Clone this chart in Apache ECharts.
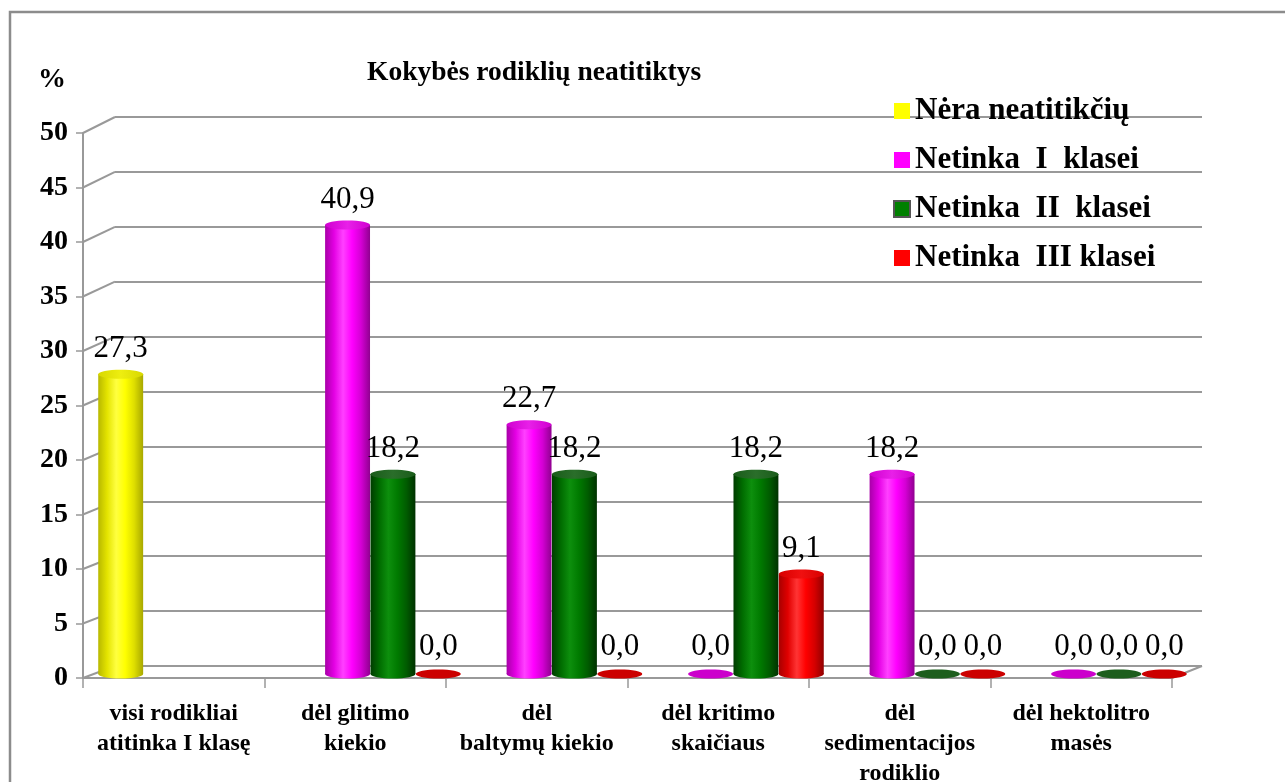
<!DOCTYPE html>
<html><head><meta charset="utf-8">
<script src="https://cdn.jsdelivr.net/npm/echarts@6/dist/echarts.min.js"></script>
<style>html,body{margin:0;padding:0;background:#fff}#c{width:1285px;height:782px}</style>
</head><body><div id="c"></div>
<script>
// ---------- data ----------
const categories = ['visi rodikliai\natitinka I klasę', 'dėl glitimo\nkiekio', 'dėl\nbaltymų kiekio', 'dėl kritimo\nskaičiaus', 'dėl\nsedimentacijos\nrodiklio', 'dėl hektolitro\nmasės'];
const seriesNames = ['Nėra neatitikčių', 'Netinka  I  klasei', 'Netinka  II  klasei', 'Netinka  III klasei'];
const neraNeatitikciu = [27.3, null, null, null, null, null];
const netinkaI = [null, 40.9, 22.7, 0.0, 18.2, 0.0];
const netinkaII = [null, 18.2, 18.2, 18.2, 0.0, 0.0];
const netinkaIII = [null, 0.0, 0.0, 9.1, 0.0, 0.0];
const yTicks = [0, 5, 10, 15, 20, 25, 30, 35, 40, 45, 50];

// ---------- style ----------
const FONT = '"Liberation Serif", "Times New Roman", serif';
const GRID_COLOR = '#999999';
const DEPTH_X = 32;          // back wall shift
const BAR_DX = 15;           // bars sit at mid depth
const RY = 4.5;
const palettes = [
  { legend: '#ffff00', body: ['#b8b800', '#e4e400', '#ffff40', '#ffff00', '#dede00', '#a8a800'], top: ['#d8d800', '#eeee10', '#d8d800'], zero: '#c8c800', border: null },
  { legend: '#ff00ff', body: ['#a800a8', '#e400e4', '#ff40ff', '#ff00ff', '#d400d4', '#900090'], top: ['#d000d0', '#e820e8', '#d000d0'], zero: '#cc00cc', border: null },
  { legend: '#008000', body: ['#003c00', '#006c00', '#0d8f0d', '#007a00', '#005c00', '#003200'], top: ['#1a5c1a', '#2a6e2a', '#1a5c1a'], zero: '#1d5e1d', border: '#555555' },
  { legend: '#ff0000', body: ['#a80000', '#e00000', '#ff3434', '#ff0000', '#d40000', '#900000'], top: ['#d80000', '#f01010', '#d80000'], zero: '#cc0000', border: null }
];
const seriesValues = [neraNeatitikciu, netinkaI, netinkaII, netinkaIII];

function grad(cols) {
  const n = cols.length;
  return new echarts.graphic.LinearGradient(0, 0, 1, 0,
    cols.map((c, k) => ({ offset: k / (n - 1), color: c })));
}
function fmt(v) { return v.toFixed(1).replace('.', ','); }
function depthLift(v) { return 4 + v * 0.08; } // perspective: mid-depth lift

function barRender(sIdx) {
  const p = palettes[sIdx];
  return function (params, api) {
    const i = api.value(0), v = api.value(1);
    const base = api.coord([i, 0]);
    const tp = api.coord([i, v]);
    const catW = api.size([1, 0])[0];
    const slot = catW / 4;
    const cx = base[0] + (sIdx - 1.5) * slot + BAR_DX;
    const w = slot * 0.99;
    const yb = base[1] - depthLift(0);
    const yt = tp[1] - depthLift(v);
    const ch = [];
    if (v > 0) {
      ch.push({ type: 'ellipse', shape: { cx: cx, cy: yb, rx: w / 2, ry: RY }, style: { fill: grad(p.body) } });
      ch.push({ type: 'rect', shape: { x: cx - w / 2, y: yt, width: w, height: yb - yt }, style: { fill: grad(p.body) } });
      ch.push({ type: 'ellipse', shape: { cx: cx, cy: yt, rx: w / 2, ry: RY }, style: { fill: grad(p.top) } });
    } else {
      ch.push({ type: 'ellipse', shape: { cx: cx, cy: yt, rx: w / 2, ry: RY }, style: { fill: p.zero } });
    }
    ch.push({ type: 'text', z2: 10, style: { text: fmt(v), x: cx, y: yt - (v > 0 ? 10 : 12), align: 'center', verticalAlign: 'bottom', font: '31px ' + FONT, fill: '#000' } });
    return { type: 'group', children: ch };
  };
}

function wallRender(params, api) {
  const v = api.value(1);
  const cs = params.coordSys;
  const p = api.coord([0, v]);
  const off = 12 + v * 0.08;
  const ch = [{ type: 'line', shape: { x1: cs.x, y1: p[1], x2: cs.x + DEPTH_X, y2: p[1] - off }, style: { stroke: GRID_COLOR, lineWidth: 2 } }];
  if (v === 0) {
    ch.push({ type: 'line', shape: { x1: cs.x + cs.width, y1: p[1], x2: cs.x + cs.width + 30, y2: p[1] - off }, style: { stroke: GRID_COLOR, lineWidth: 2 } });
  }
  return { type: 'group', children: ch };
}

const barSeries = seriesValues.map((arr, s) => ({
  name: seriesNames[s],
  type: 'custom',
  xAxisIndex: 1, yAxisIndex: 1,
  renderItem: barRender(s),
  encode: { x: 0, y: 1 },
  itemStyle: { color: palettes[s].legend },
  z: 5,
  data: arr.map((v, i) => v === null ? null : [i, v]).filter(d => d !== null)
}));

const option = {
  animation: false,
  backgroundColor: '#fff',
  title: [
    { text: 'Kokybės rodiklių neatitiktys', left: 367, top: 59, padding: 0, textStyle: { fontFamily: FONT, fontWeight: 'bold', fontSize: 27.5, color: '#000' } },
    { text: '%', left: 38, top: 66, padding: 0, textStyle: { fontFamily: FONT, fontWeight: 'bold', fontSize: 28, color: '#000' } }
  ],
  legend: {
    orient: 'vertical', left: 893, top: 95, padding: 0,
    itemWidth: 16, itemHeight: 16, itemGap: 17, itemTextGap: 8,
    selectedMode: false,
    textStyle: { fontFamily: FONT, fontWeight: 'bold', fontSize: 31, color: '#000', lineHeight: 32 },
    data: seriesNames.map((n, s) => ({ name: n, icon: 'rect', itemStyle: { color: palettes[s].legend, borderColor: palettes[s].border || palettes[s].legend, borderWidth: palettes[s].border ? 2 : 0 } }))
  },
  graphic: [
    { type: 'rect', silent: true, z: -10, shape: { x: 10, y: 12, width: 1300, height: 800 }, style: { fill: 'none', stroke: '#8c8c8c', lineWidth: 2.5 } }
  ],
  grid: [
    { left: 115, right: 83, top: 117, bottom: 116, containLabel: false, outerBoundsMode: 'none' },
    { left: 83, right: 113, top: 133, bottom: 104, containLabel: false, outerBoundsMode: 'none' }
  ],
  xAxis: [
    { gridIndex: 0, type: 'category', data: categories, show: false },
    {
      gridIndex: 1, type: 'category', data: categories,
      axisLine: { lineStyle: { color: GRID_COLOR, width: 2 } },
      axisTick: { show: true, interval: 0, length: 10, lineStyle: { color: GRID_COLOR, width: 1.5 } },
      axisLabel: { interval: 0, margin: 21, fontFamily: FONT, fontWeight: 'bold', fontSize: 24, lineHeight: 30, color: '#000' }
    }
  ],
  yAxis: [
    {
      gridIndex: 0, type: 'value', min: 0, max: 50, interval: 5,
      axisLine: { show: false }, axisTick: { show: false }, axisLabel: { show: false },
      splitLine: { show: true, lineStyle: { color: GRID_COLOR, width: 2 } }
    },
    {
      gridIndex: 1, type: 'value', min: 0, max: 50, interval: 5,
      axisLine: { show: true, lineStyle: { color: GRID_COLOR, width: 2 } },
      axisTick: { show: true, length: 7, lineStyle: { color: GRID_COLOR, width: 1.5 } },
      axisLabel: { margin: 15, fontFamily: FONT, fontWeight: 'bold', fontSize: 28, color: '#000' },
      splitLine: { show: false }
    }
  ],
  series: [
    { type: 'custom', name: 'walls', xAxisIndex: 1, yAxisIndex: 1, silent: true, z: 1, renderItem: wallRender, encode: { x: 0, y: 1 }, data: yTicks.map(v => [0, v]) }
  ].concat(barSeries)
};

const chart = echarts.init(document.getElementById('c'), null, { renderer: 'canvas' });
chart.setOption(option);
</script>
</body></html>
